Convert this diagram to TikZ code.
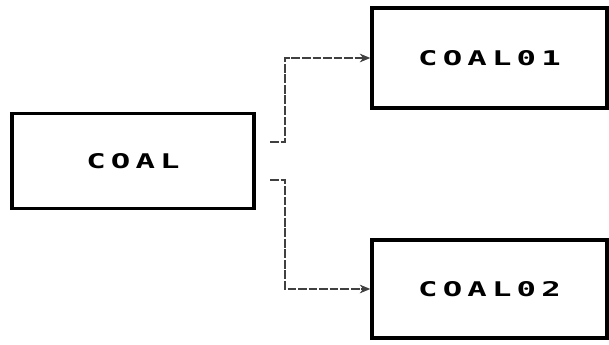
\documentclass[tikz,border=0pt]{standalone}
\usepackage{fontspec}
\usepackage{graphicx}
\newfontfamily\boxfont[LetterSpace=16]{DejaVu Sans Mono}
\newcommand{\widetag}[1]{\scalebox{1.6}[1.0]{\boxfont\bfseries\fontsize{11.5}{13}\selectfont #1}}
\usetikzlibrary{arrows.meta}

\begin{document}
\begin{tikzpicture}[
    blk/.style={draw=black, line width=2pt,
                minimum width=4.84cm, minimum height=1.9cm,
                align=center, inner sep=0pt},
    link/.style={-{Stealth[length=6pt, width=5pt]}, black!75, line width=0.6pt,
                 dash pattern=on 5pt off 1pt},
]
\useasboundingbox (0,0) rectangle (12.18,6.9);

% Source
\node[blk] (coal) at (2.66, 3.68) {\widetag{COAL}};

% Split products
\node[blk, minimum width=4.7cm, minimum height=2cm] (coal01) at (9.79, 5.74) {\widetag{COAL01}};
\node[blk, minimum width=4.7cm, minimum height=1.96cm] (coal02) at (9.79, 1.12) {\widetag{COAL02}};

% Branches
\coordinate (outA) at (5.4, 4.06);
\coordinate (outB) at (5.4, 3.30);

\draw[link] (outA) -- ++(0.3, 0) |- (coal01.west);
\draw[link] (outB) -- ++(0.3, 0) |- (coal02.west);

\end{tikzpicture}
\end{document}
